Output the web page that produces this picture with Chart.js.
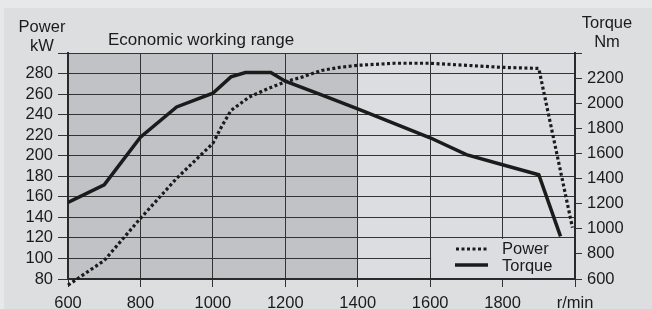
<!DOCTYPE html>
<html>
<head>
<meta charset="utf-8">
<script src="https://cdn.jsdelivr.net/npm/chart.js@4.4.1/dist/chart.umd.min.js"></script>
<style>
  html, body { margin: 0; padding: 0; background: #dddee0; }
  #wrap { width: 652px; height: 309px; position: relative; }
</style>
</head>
<body>
<div id="wrap"><canvas id="chart"></canvas></div>
<script>
// данные с картинки
const rpmPower = [600, 700, 800, 900, 1000, 1025, 1050, 1100, 1150, 1200, 1250, 1300, 1350, 1400, 1500, 1600, 1700, 1800, 1900, 1993];
const powerKw = [74, 98, 139, 178, 212, 229, 244, 257, 265, 272, 277, 283, 286, 288, 290, 290, 288, 286, 285, 130];

const rpmTorque = [600, 700, 800, 900, 1000, 1050, 1090, 1160, 1200, 1300, 1400, 1500, 1600, 1700, 1800, 1900, 1960];
const torqueNm = [1210, 1350, 1730, 1970, 2080, 2210, 2245, 2245, 2175, 2066, 1955, 1840, 1725, 1590, 1510, 1430, 940];

const xTicks = [600, 800, 1000, 1200, 1400, 1600, 1800, 'r/min'];
const powerTicks = [80, 100, 120, 140, 160, 180, 200, 220, 240, 260, 280];
const torqueTicks = [600, 800, 1000, 1200, 1400, 1600, 1800, 2000, 2200];
const econRange = [600, 1400];

const FONT = '"Liberation Sans", Arial, sans-serif';
const INK = '#1b1b1b';
const GRID = '#333333';
const FS = 16.5;

const toPoints = (xs, ys) => xs.map((x, i) => ({ x, y: ys[i] }));

// фон, тёмная зона, подписи осей, легенда
const decor = {
  id: 'decor',
  beforeDraw(chart) {
    const { ctx, chartArea: a, scales } = chart;
    ctx.save();
    ctx.fillStyle = '#dddee0';
    ctx.fillRect(0, 0, chart.width, chart.height);
    ctx.fillStyle = '#e7e8ea';
    ctx.fillRect(0, 0, chart.width, 8);
    ctx.fillRect(0, 0, 4, chart.height);
    ctx.fillStyle = '#dcdde0';
    ctx.fillRect(a.left, a.top, a.right - a.left, a.bottom - a.top);
    const x0 = scales.x.getPixelForValue(econRange[0]);
    const x1 = scales.x.getPixelForValue(econRange[1]);
    ctx.fillStyle = '#c1c2c5';
    ctx.fillRect(x0, a.top, x1 - x0, a.bottom - a.top);

    ctx.fillStyle = INK;
    ctx.font = FS + 'px ' + FONT;
    ctx.textAlign = 'center';
    ctx.textBaseline = 'middle';
    ctx.fillText('Power', 42, 27);
    ctx.fillText('kW', 42, 46);
    ctx.fillText('Torque', 607, 23);
    ctx.fillText('Nm', 607, 42);
    ctx.textAlign = 'left';
    ctx.font = '17px ' + FONT;
    ctx.fillText('Economic working range', 108, 40);
    ctx.restore();
  },
  beforeDatasetsDraw(chart) {
    const { ctx, chartArea: a, scales } = chart;
    const bx = scales.x.getPixelForValue(1600);
    const by = scales.y.getPixelForValue(120);
    ctx.save();
    ctx.fillStyle = '#dcdde0';
    ctx.fillRect(bx + 1, by + 1, a.right - bx - 2, a.bottom - by - 2);
    ctx.restore();
  },
  afterDatasetsDraw(chart) {
    const ctx = chart.ctx;
    ctx.save();
    ctx.strokeStyle = INK;
    ctx.lineWidth = 3.2;
    ctx.setLineDash([3, 2.5]);
    ctx.beginPath();
    ctx.moveTo(456, 249);
    ctx.lineTo(488, 249);
    ctx.stroke();
    ctx.setLineDash([]);
    ctx.lineWidth = 3.5;
    ctx.beginPath();
    ctx.moveTo(455, 265);
    ctx.lineTo(488, 265);
    ctx.stroke();
    ctx.fillStyle = INK;
    ctx.font = FS + 'px ' + FONT;
    ctx.textAlign = 'left';
    ctx.textBaseline = 'middle';
    ctx.fillText('Power', 502, 249);
    ctx.fillText('Torque', 502, 266);
    ctx.restore();
  }
};

new Chart(document.getElementById('chart'), {
  type: 'line',
  data: {
    datasets: [
      {
        label: 'Power',
        data: toPoints(rpmPower, powerKw),
        yAxisID: 'y',
        borderColor: INK,
        borderWidth: 3.2,
        borderDash: [3, 2.5],
        pointRadius: 0,
        tension: 0,
        clip: false
      },
      {
        label: 'Torque',
        data: toPoints(rpmTorque, torqueNm),
        yAxisID: 'y1',
        borderColor: INK,
        borderWidth: 3.5,
        pointRadius: 0,
        tension: 0
      }
    ]
  },
  options: {
    responsive: true,
    maintainAspectRatio: false,
    animation: false,
    layout: { padding: { top: 53, left: 0, right: 0, bottom: 0 } },
    plugins: { legend: { display: false }, tooltip: { enabled: false } },
    scales: {
      x: {
        type: 'linear',
        min: 600,
        max: 2000,
        afterFit: s => { s.height = 30; },
        afterBuildTicks: s => { s.ticks = [600, 800, 1000, 1200, 1400, 1600, 1800, 2000].map(v => ({ value: v })); },
        ticks: {
          padding: 7,
          autoSkip: false,
          color: INK,
          font: { family: FONT, size: FS },
          maxRotation: 0,
          callback: (v, i) => xTicks[i]
        },
        grid: { color: GRID, lineWidth: 1, tickLength: 8 },
        border: { color: '#2a2a2a', width: 2 }
      },
      y: {
        position: 'left',
        min: 80,
        max: 300,
        afterFit: s => { s.width = 68; },
        afterBuildTicks: s => { s.ticks = powerTicks.concat([300]).map(v => ({ value: v })); },
        ticks: {
          padding: 5,
          autoSkip: false,
          color: INK,
          font: { family: FONT, size: FS },
          callback: v => (powerTicks.includes(v) ? v : '')
        },
        grid: { color: GRID, lineWidth: 1, tickLength: 10 },
        border: { color: '#2a2a2a', width: 2 }
      },
      y1: {
        position: 'right',
        min: 600,
        max: 2400,
        afterFit: s => { s.width = 77; },
        afterBuildTicks: s => { s.ticks = torqueTicks.concat([2400]).map(v => ({ value: v })); },
        ticks: {
          padding: 5,
          autoSkip: false,
          color: INK,
          font: { family: FONT, size: FS },
          callback: v => (torqueTicks.includes(v) ? v : '')
        },
        grid: { drawOnChartArea: false, color: GRID, lineWidth: 1, tickLength: 7 },
        border: { color: '#2a2a2a', width: 2 }
      }
    }
  },
  plugins: [decor]
});
</script>
</body>
</html>
